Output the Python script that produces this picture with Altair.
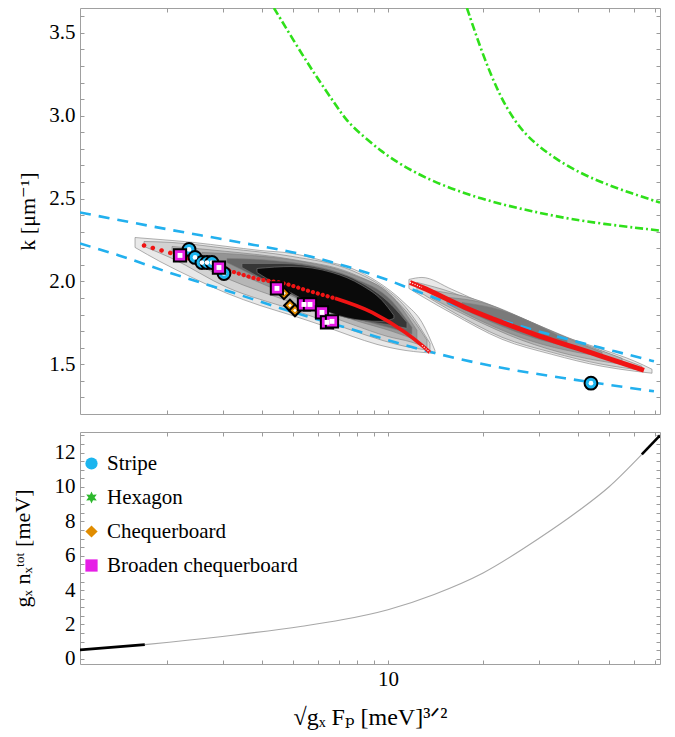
import altair as alt
import pandas as pd

FONT = "Liberation Serif, DejaVu Serif, serif"

# ---------------- axes ----------------
X_DOMAIN = [1.06, 72.6]
K_DOMAIN = [1.2, 3.65]
G_DOMAIN = [-0.3, 13.2]
X_TICKS = [2, 3, 4, 5, 6, 7, 8, 9, 10, 20, 30, 40, 50, 60, 70]
K_TICKS = [1.3, 1.4, 1.5, 1.6, 1.7, 1.8, 1.9, 2.0, 2.1, 2.2, 2.3, 2.4, 2.5,
           2.6, 2.7, 2.8, 2.9, 3.0, 3.1, 3.2, 3.3, 3.4, 3.5, 3.6]
G_TICKS = [0, 0.5, 1, 1.5, 2, 2.5, 3, 3.5, 4, 4.5, 5, 5.5, 6, 6.5, 7, 7.5, 8,
           8.5, 9, 9.5, 10, 10.5, 11, 11.5, 12, 12.5, 13]

# ---------------- density contours (outer -> inner): x, upper k, lower k ----------------
blob1_levels = [
    ([1.583, 1.899, 2.433, 3.094, 3.934, 4.969, 6.182, 7.692, 9.230, 11.32, 12.81, 14.08],
     [2.265, 2.253, 2.235, 2.211, 2.187, 2.169, 2.127, 2.078, 2.000, 1.867, 1.753, 1.584],
     [2.205, 2.120, 2.018, 1.928, 1.855, 1.795, 1.735, 1.669, 1.620, 1.584, 1.572, 1.566]),
    ([1.690, 2.073, 3.094, 4.969, 7.692, 9.572, 11.32, 13.58],
     [2.241, 2.235, 2.199, 2.151, 2.066, 1.970, 1.849, 1.627],
     [2.211, 2.139, 1.964, 1.831, 1.705, 1.645, 1.608, 1.584]),
    ([2.073, 3.094, 4.969, 7.692, 9.927, 11.91, 13.29],
     [2.211, 2.181, 2.133, 2.048, 1.934, 1.777, 1.645],
     [2.181, 2.018, 1.873, 1.741, 1.669, 1.633, 1.602]),
    ([2.578, 3.712, 5.343, 7.692, 10.30, 12.35],
     [2.175, 2.157, 2.120, 2.042, 1.910, 1.705],
     [2.145, 2.012, 1.886, 1.771, 1.699, 1.645]),
    ([3.094, 4.295, 5.748, 7.692, 10.30, 11.91],
     [2.139, 2.127, 2.096, 2.024, 1.880, 1.723],
     [2.114, 1.982, 1.867, 1.783, 1.717, 1.681]),
    ([3.451, 4.618, 6.182, 7.978, 10.30, 11.48],
     [2.108, 2.108, 2.078, 2.006, 1.855, 1.753],
     [2.084, 1.952, 1.837, 1.771, 1.735, 1.717]),
    ([3.850, 4.969, 6.65, 8.274, 9.572, 10.44],
     [2.078, 2.090, 2.054, 1.976, 1.886, 1.795],
     [2.054, 1.928, 1.807, 1.765, 1.759, 1.777]),
]
blob1_fills = ["#e9e9e9", "#d2d2d2", "#b6b6b6", "#949494", "#686868", "#363636", "#0a0a0a"]

blob2_levels = [
    ([11.65, 12.81, 15.94, 22.95, 33.0, 47.6, 60.5, 68.5],
     [2.012, 2.024, 1.952, 1.813, 1.693, 1.590, 1.518, 1.470],
     [1.958, 1.910, 1.807, 1.651, 1.560, 1.488, 1.458, 1.446]),
    ([12.35, 15.94, 22.95, 33.0, 47.6, 63.65],
     [1.994, 1.934, 1.801, 1.681, 1.578, 1.488],
     [1.946, 1.819, 1.663, 1.572, 1.500, 1.464]),
    ([13.78, 18.45, 26.55, 38.23, 55.03],
     [1.946, 1.898, 1.777, 1.651, 1.536],
     [1.898, 1.777, 1.645, 1.554, 1.500]),
    ([15.37, 19.84, 28.56, 39.65, 47.6],
     [1.904, 1.873, 1.753, 1.633, 1.572],
     [1.867, 1.759, 1.639, 1.572, 1.548]),
    ([17.15, 22.95, 30.71, 36.87],
     [1.873, 1.825, 1.723, 1.645],
     [1.837, 1.729, 1.645, 1.608]),
]
blob2_fills = ["#e9e9e9", "#d0d0d0", "#b4b4b4", "#979797", "#7a7a7a"]

# ---------------- curves ----------------
green_a_x = [4.357, 5.078, 5.875, 6.797, 7.418, 8.457, 9.572, 10.83, 13.78, 19.8, 28.6, 41.1, 72.6]
green_a_y = [3.650, 3.440, 3.247, 3.072, 2.964, 2.867, 2.783, 2.711, 2.602, 2.494, 2.422, 2.361, 2.307]
green_b_x = [17.78, 19.84, 22.4, 25.2, 28.56, 36.3, 46.5, 59.2, 72.6]
green_b_y = [3.650, 3.380, 3.133, 2.964, 2.843, 2.699, 2.602, 2.530, 2.476]

blue_up_x = [1.06, 2.028, 3.28, 5.343, 7.418, 10.07, 11.91, 16.78, 21.33, 29.19, 39.06, 52.28, 69.47]
blue_up_y = [2.416, 2.313, 2.241, 2.163, 2.090, 2.006, 1.952, 1.849, 1.783, 1.705, 1.639, 1.578, 1.518]
blue_lo_x = [1.06, 1.408, 2.028, 3.28, 4.295, 7.864, 13.78, 22.4, 36.3, 69.47]
blue_lo_y = [2.229, 2.157, 2.054, 1.928, 1.855, 1.705, 1.572, 1.482, 1.416, 1.337]

red1_x = [1.690, 2.073, 3.139, 3.934, 4.686, 5.542, 6.797, 8.901, 11.32, 12.81, 13.58]
red1_y = [2.217, 2.169, 2.066, 2.012, 1.988, 1.946, 1.898, 1.813, 1.693, 1.614, 1.572]
red2_x = [11.74, 12.81, 17.53, 28.56, 46.5, 64.6]
red2_y = [1.994, 1.964, 1.843, 1.687, 1.554, 1.464]

# ---------------- markers ----------------
stripe_x = [2.346, 2.451, 2.578, 2.674, 2.773, 3.027, 43.9]
stripe_y = [2.193, 2.145, 2.114, 2.114, 2.114, 2.048, 1.386]
cheq_x = [4.686, 4.896, 5.078]
cheq_y = [1.928, 1.855, 1.825]
broad_x = [2.197, 2.918, 4.453, 5.422, 5.665, 6.182, 6.412, 6.65]
broad_y = [2.157, 2.084, 1.958, 1.861, 1.861, 1.813, 1.753, 1.759]

# ---------------- lower panel ----------------
g_black1_x = [1.06, 1.70]
g_black1_y = [0.52, 0.83]
g_gray_x = [1.70, 2.03, 3.28, 5.35, 7.15, 10, 14, 20, 30, 40, 50, 63.6]
g_gray_y = [0.83, 0.97, 1.39, 1.9, 2.27, 2.86, 3.75, 5.0, 7.0, 8.6, 10.0, 11.9]
g_black2_x = [63.6, 72.6]
g_black2_y = [11.9, 13.0]

legend_names = ["Stripe", "Hexagon", "Chequerboard", "Broaden chequerboard"]
legend_colors = ["#1cb5ee", "#2db82d", "#e08c00", "#e61ee6"]
STAR = ("M0,-1L0.25,-0.433L0.866,-0.5L0.5,0L0.866,0.5L0.25,0.433L0,1L-0.25,0.433"
        "L-0.866,0.5L-0.5,0L-0.866,-0.5L-0.25,-0.433Z")
legend_shapes = ["circle", STAR, "diamond", "square"]

# =====================================================================
xs = alt.Scale(type="log", domain=X_DOMAIN, nice=False)
ks = alt.Scale(domain=K_DOMAIN, nice=False, zero=False)
gs = alt.Scale(domain=G_DOMAIN, nice=False, zero=False)
TICK = "#9a9a9a"


def axis(orient, values, expr=None, title=None, label_pad=5, title_pad=8, title_size=22):
    a = dict(orient=orient, values=values, tickSize=4, offset=-4, domain=False,
             grid=False, tickColor=TICK, tickWidth=1)
    if expr is None:
        a["labels"] = False
    else:
        a.update(labels=True, labelExpr=expr, labelFont=FONT, labelFontSize=21,
                 labelColor="black", labelOverlap=False, labelFlush=False,
                 labelBound=False, labelPadding=label_pad)
    if title is None:
        a["title"] = ""
    else:
        a.update(title=title, titleFont=FONT, titleFontSize=title_size,
                 titleFontWeight="normal", titleColor="black", titlePadding=title_pad)
    return alt.Axis(**a)


def df_xy(x, y):
    return pd.DataFrame({"x": x, "y": y})


def xy_enc(yscale, xaxis=None, yaxis=None):
    return dict(
        x=alt.X("x:Q", scale=xs, axis=xaxis),
        y=alt.Y("y:Q", scale=yscale, axis=yaxis),
    )


# ---------------- top panel ----------------
k_expr = "abs(datum.value*2 - round(datum.value*2)) < 0.001 ? format(datum.value, '.1f') : ''"
top_layers = []
for levels, fills in ((blob1_levels, blob1_fills), (blob2_levels, blob2_fills)):
    for (lx, lt, lb), fc in zip(levels, fills):
        d = pd.DataFrame({"x": lx, "top": lt, "bot": lb})
        if len(top_layers) == 0:
            xa = axis("bottom", X_TICKS)
            ya = axis("left", K_TICKS, expr=k_expr, title="k [μm⁻¹]", title_pad=9)
        elif len(top_layers) == 1:
            xa = axis("top", X_TICKS)
            ya = axis("right", K_TICKS)
        else:
            xa = None
            ya = None
        top_layers.append(
            alt.Chart(d).mark_area(interpolate="monotone", fill=fc, stroke="#7c7c7c",
                                   strokeWidth=0.6, clip=True)
            .encode(x=alt.X("x:Q", scale=xs, axis=xa),
                    y=alt.Y("top:Q", scale=ks, axis=ya),
                    y2="bot:Q")
        )

BLUE = "#22b0ee"
for bx, by in ((blue_up_x, blue_up_y), (blue_lo_x, blue_lo_y)):
    top_layers.append(
        alt.Chart(df_xy(bx, by)).mark_line(color=BLUE, strokeWidth=2.6, strokeDash=[11, 8],
                                           interpolate="monotone", clip=True)
        .encode(**xy_enc(ks))
    )

GREEN = "#2fe01a"
for gx, gy in ((green_a_x, green_a_y), (green_b_x, green_b_y)):
    top_layers.append(
        alt.Chart(df_xy(gx, gy)).mark_line(color=GREEN, strokeWidth=2.6,
                                           strokeDash=[8, 3, 2, 3],
                                           interpolate="basis", clip=True)
        .encode(**xy_enc(ks))
    )

RED = "#f01414"
top_layers.append(
    alt.Chart(df_xy(red1_x[0:3], red1_y[0:3])).mark_line(
        color=RED, strokeWidth=4.5, strokeCap="round", strokeDash=[0.1, 9], clip=True)
    .encode(**xy_enc(ks)))
top_layers.append(
    alt.Chart(df_xy(red1_x[2:7], red1_y[2:7])).mark_line(
        color=RED, strokeWidth=4.2, strokeCap="round", strokeDash=[0.1, 5],
        interpolate="monotone", clip=True)
    .encode(**xy_enc(ks)))
top_layers.append(
    alt.Chart(df_xy(red1_x[6:], red1_y[6:])).mark_line(
        color=RED, strokeWidth=3.6, interpolate="monotone", clip=True)
    .encode(**xy_enc(ks)))
top_layers.append(
    alt.Chart(df_xy(red1_x[9:], red1_y[9:])).mark_line(
        color="white", strokeWidth=1.2, strokeDash=[1, 1.5], clip=True)
    .encode(**xy_enc(ks)))
top_layers.append(
    alt.Chart(df_xy(red2_x, red2_y)).mark_line(
        color=RED, strokeWidth=5, interpolate="monotone", clip=True)
    .encode(**xy_enc(ks)))
top_layers.append(
    alt.Chart(df_xy(red2_x[0:2], red2_y[0:2])).mark_line(
        color="white", strokeWidth=1.3, strokeDash=[1, 1.5], clip=True)
    .encode(**xy_enc(ks)))

# markers: coloured symbol with black rim, small white centre
for mx, my, shape, col, size, wsize in (
        (stripe_x, stripe_y, "circle", legend_colors[0], 165, 22),
        (cheq_x, cheq_y, "diamond", legend_colors[2], 135, 14),
        (broad_x, broad_y, "square", legend_colors[3], 150, 24)):
    top_layers.append(
        alt.Chart(df_xy(mx, my)).mark_point(
            shape=shape, fill=col, stroke="black", strokeWidth=2,
            size=size, opacity=1, fillOpacity=1, clip=True)
        .encode(**xy_enc(ks)))
    top_layers.append(
        alt.Chart(df_xy(mx, my)).mark_point(
            shape=shape, filled=True, color="white", size=wsize, opacity=1, clip=True)
        .encode(**xy_enc(ks)))

top = alt.layer(*top_layers).resolve_axis(x="independent", y="independent").properties(
    width=580, height=406)

# ---------------- bottom panel ----------------
g_expr = "datum.value % 2 == 0 ? format(datum.value, 'd') : ''"
x_expr = "datum.value == 10 ? '10' : ''"
bot_layers = [
    alt.Chart(df_xy(g_gray_x, g_gray_y)).mark_line(
        color="#a8a8a8", strokeWidth=1.1, interpolate="monotone", clip=True)
    .encode(x=alt.X("x:Q", scale=xs,
                    axis=axis("bottom", X_TICKS, expr=x_expr,
                              title="√gₓ Fₚ [meV]³ᐟ²", label_pad=4, title_pad=16,
                              title_size=24)),
            y=alt.Y("y:Q", scale=gs,
                    axis=axis("left", G_TICKS, expr=g_expr,
                              title="gₓ nₓᵗᵒᵗ [meV]", title_pad=20))),
    alt.Chart(df_xy(g_black1_x, g_black1_y)).mark_line(
        color="black", strokeWidth=2.6, clip=True)
    .encode(x=alt.X("x:Q", scale=xs, axis=axis("top", X_TICKS)),
            y=alt.Y("y:Q", scale=gs, axis=axis("right", G_TICKS))),
    alt.Chart(df_xy(g_black2_x, g_black2_y)).mark_line(
        color="black", strokeWidth=2.6, clip=True)
    .encode(**xy_enc(gs)),
    alt.Chart(pd.DataFrame({"kind": legend_names})).mark_point(filled=True, opacity=1)
    .transform_filter("false")
    .encode(
        color=alt.Color("kind:N", scale=alt.Scale(domain=legend_names, range=legend_colors),
                        legend=alt.Legend(title=None, orient="none", legendX=1, legendY=21,
                                          labelFont=FONT, labelFontSize=21,
                                          labelColor="black", symbolSize=150,
                                          symbolOpacity=1, symbolStrokeWidth=0,
                                          rowPadding=12, labelOffset=5, padding=0,
                                          labelLimit=400)),
        shape=alt.Shape("kind:N", scale=alt.Scale(domain=legend_names, range=legend_shapes)),
    ),
]
bottom = alt.layer(*bot_layers).resolve_axis(x="independent", y="independent").properties(
    width=580, height=232)

chart = (
    alt.vconcat(top, bottom, spacing=8)
    .resolve_scale(x="independent", y="independent", color="independent",
                   shape="independent")
    .properties(padding={"left": 10, "top": 4, "right": 10, "bottom": 5},
                background="white")
    .configure_view(stroke="#a0a0a0", strokeWidth=1)
)

chart.save("out.html", embed_options={"renderer": "svg", "actions": False})
